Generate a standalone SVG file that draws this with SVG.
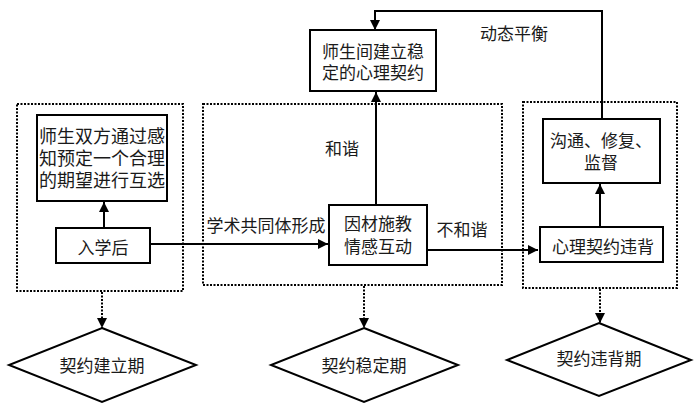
<svg xmlns="http://www.w3.org/2000/svg" width="700" height="409" viewBox="0 0 700 409">
<defs>
<marker id="ah" viewBox="0 0 10 10" refX="10" refY="5" markerWidth="5" markerHeight="5" orient="auto" markerUnits="strokeWidth"><path d="M0,0 L10,5 L0,10 z" fill="#000"/></marker>
<marker id="ah2" viewBox="0 0 10 10" refX="10" refY="5" markerWidth="6" markerHeight="6" orient="auto" markerUnits="strokeWidth"><path d="M0,0 L10,5 L0,10 z" fill="#000"/></marker>
</defs>
<style>
text{font-family:"Noto Sans CJK SC","Noto Sans",sans-serif;font-size:17px;fill:#1a1a1a;text-anchor:middle;dominant-baseline:central}
.box{fill:#fff;stroke:#000;stroke-width:2}
.dot{fill:none;stroke:#000;stroke-width:2;stroke-dasharray:2 1.5}
.dia{fill:#fff;stroke:#000;stroke-width:2}
.ln{fill:none;stroke:#000;stroke-width:2}
.dl{fill:none;stroke:#000;stroke-width:2;stroke-dasharray:2 1.5}
</style>
<rect width="700" height="409" fill="#fff"/>
<g id="stage-establish">
<rect class="dot" x="17" y="104" width="166" height="187"/>
</g>
<g id="stage-stable">
<rect class="dot" x="203" y="104" width="299" height="181"/>
</g>
<g id="stage-violate">
<rect class="dot" x="523" y="102" width="154" height="186"/>
</g>
<g id="connectors">
<line class="ln" x1="104" y1="228" x2="104" y2="202" marker-end="url(#ah)"/>
<line class="ln" x1="150" y1="244" x2="328" y2="244" marker-end="url(#ah)"/>
<line class="ln" x1="376" y1="205" x2="376" y2="92" marker-end="url(#ah)"/>
<line class="ln" x1="427" y1="250" x2="538" y2="250" marker-end="url(#ah)"/>
<line class="ln" x1="600" y1="227" x2="600" y2="184" marker-end="url(#ah)"/>
<polyline class="ln" points="602,119 602,11 375,11 375,30" marker-end="url(#ah)"/>
<line class="dl" x1="102" y1="292" x2="102" y2="328" marker-end="url(#ah)"/>
<line class="dl" x1="364" y1="286" x2="364" y2="328" marker-end="url(#ah)"/>
<line class="dl" x1="600" y1="289" x2="600" y2="323" marker-end="url(#ah)"/>
<text x="266" y="224">学术共同体形成</text>
<text x="342" y="147">和谐</text>
<text x="462" y="228">不和谐</text>
<text x="514" y="32">动态平衡</text>
</g>
<g id="n-select">
<rect class="box" x="37" y="115" width="130" height="86"/>
<text x="102" y="135" style="font-size:18px">师生双方通过感</text>
<text x="102" y="157" style="font-size:18px">知预定一个合理</text>
<text x="102" y="179" style="font-size:18px">的期望进行互选</text>
</g>
<g id="n-enter">
<rect class="box" x="56" y="228" width="94" height="35"/>
<text x="103" y="246">入学后</text>
</g>
<g id="n-teach">
<rect class="box" x="329" y="205" width="98" height="60"/>
<text x="378" y="222">因材施教</text>
<text x="378" y="245">情感互动</text>
</g>
<g id="n-contract">
<rect class="box" x="310" y="30" width="126" height="61"/>
<text x="373" y="50">师生间建立稳</text>
<text x="373" y="71">定的心理契约</text>
</g>
<g id="n-repair">
<rect class="box" x="543" y="119" width="117" height="64"/>
<text x="601" y="139">沟通、修复、</text>
<text x="601" y="161">监督</text>
</g>
<g id="n-violation">
<rect class="box" x="540" y="227" width="123" height="35"/>
<text x="603" y="245">心理契约违背</text>
</g>
<g id="d-establish">
<polygon class="dia" points="102,328 196,365 102,402 9,365"/>
<text x="102" y="364">契约建立期</text>
</g>
<g id="d-stable">
<polygon class="dia" points="364,328 458,365 364,402 271,365"/>
<text x="364" y="364">契约稳定期</text>
</g>
<g id="d-violate">
<polygon class="dia" points="599,323 691,360 599,396 507,360"/>
<text x="599" y="357">契约违背期</text>
</g>
</svg>
